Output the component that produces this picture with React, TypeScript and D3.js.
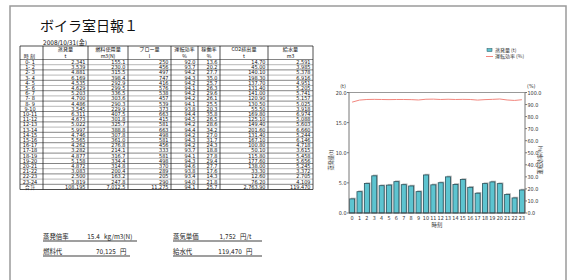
import React from 'react';
import * as d3 from 'd3';

// hourly table values
const hours = ['0- 1', '1- 2', '2- 3', '3- 4', '4- 5', '5- 6', '6- 7', '7- 8', '8- 9', '9-10', '10-11', '11-12',
  '12-13', '13-14', '14-15', '15-16', '16-17', '17-18', '18-19', '19-20', '20-21', '21-22', '22-23', '23-24'];
const steam = [2.341, 3.539, 4.881, 6.169, 4.535, 4.629, 5.203, 4.700, 4.486, 3.545, 6.311, 4.673,
  5.022, 5.997, 4.746, 5.565, 4.262, 3.282, 4.877, 5.158, 4.872, 3.083, 2.500, 3.819];
const fuel = [155.1, 230.0, 315.5, 398.4, 292.9, 299.5, 336.5, 303.6, 290.3, 229.9, 407.5, 301.8,
  325.7, 388.8, 307.8, 361.0, 276.8, 214.1, 316.7, 334.4, 314.8, 200.4, 163.2, 247.8];
const blow = [250, 456, 497, 747, 416, 576, 538, 457, 539, 373, 663, 415,
  581, 663, 498, 581, 456, 333, 581, 498, 370, 289, 205, 290];
const efficiency = [92.0, 93.7, 94.2, 94.3, 94.2, 94.1, 94.2, 94.2, 94.1, 93.8, 94.4, 94.5,
  94.2, 94.4, 94.2, 94.3, 94.2, 93.7, 94.1, 94.3, 94.6, 93.8, 93.4, 94.0];
const utilization = [13.6, 20.2, 27.7, 35.0, 25.7, 26.3, 29.6, 26.1, 25.5, 20.3, 35.8, 26.5,
  28.6, 34.2, 27.0, 31.7, 24.3, 18.8, 27.8, 29.4, 27.7, 17.6, 14.3, 21.8];
const co2 = [14.70, 45.00, 140.10, 198.30, 137.70, 131.40, 141.00, 120.90, 130.50, 55.50, 169.80, 125.10,
  149.40, 201.60, 131.40, 167.10, 100.80, 50.10, 115.80, 177.60, 138.00, 33.30, 12.60, 76.20];
const water = [2.591, 3.985, 5.378, 6.916, 4.951, 5.205, 5.741, 5.157, 5.025, 3.918, 6.974, 5.088,
  5.603, 6.660, 5.244, 6.146, 4.718, 3.615, 5.458, 5.656, 5.245, 3.372, 2.705, 4.109];
const totals = ['合 計', '108.195', '7,012.5', '11,275', '94.1', '25.7', '2,763.90', '119.470'];

const headers = [['', '時 刻'], ['蒸発量', 't'], ['燃料使用量', 'm3(N)'], ['ブロー量', 'l'],
  ['運転効率', '%'], ['稼働率', '%'], ['CO2排出量', 't'], ['給水量', 'm3']];

const summary = [
  { label: '蒸発倍率', value: '15.4', unit: 'kg/m3(N)' },
  { label: '蒸気単価', value: '1,752', unit: '円/t' },
  { label: '燃料代', value: '70,125', unit: '円' },
  { label: '給水代', value: '119,470', unit: '円' },
];

const chartLabels = d3.range(24).map(String);

const JP = "'Noto Sans CJK JP', sans-serif";
const NUM = "'Liberation Sans Narrow', 'DejaVu Sans Condensed', 'Noto Sans CJK JP', sans-serif";

const colEdges = [20, 43, 88, 128, 171, 198, 220, 268, 313];
const tableTop = 46;
const headH = 13.5;
const rowH = 5.2;

const f3 = d3.format(',.3f');
const f1 = d3.format(',.1f');
const f2 = d3.format(',.2f');
const f0 = d3.format(',d');

const Table = () => {
  const rows = hours.map((h, i) => [h, f3(steam[i]), f1(fuel[i]), f0(blow[i]), f1(efficiency[i]),
    f1(utilization[i]), f2(co2[i]), f3(water[i])]);
  rows.push(totals);
  const bottom = tableTop + headH + rows.length * rowH;
  return (
    <g>
      {headers.map((hd, c) => {
        const cx = (colEdges[c] + colEdges[c + 1]) / 2;
        return (
          <g key={c} fontFamily={JP} fontSize={5.1} fill="#111" textAnchor="middle">
            <text x={c === 0 ? cx - 2 : cx} y={tableTop + 5.2}>{hd[0]}</text>
            <text x={c === 0 ? cx - 2 : cx} y={tableTop + 11.8}>{hd[1]}</text>
          </g>
        );
      })}
      {rows.map((r, i) => {
        const top = tableTop + headH + i * rowH;
        return (
          <g key={i}>
            <line x1={colEdges[0]} x2={colEdges[8]} y1={top} y2={top} stroke={i % 2 ? '#888' : '#333'} strokeWidth={0.6} />
            {r.map((v, c) => (
              <text key={c} x={c === 0 ? 30 : colEdges[c + 1] - 2.5} y={top + 4.5}
                textAnchor={c === 0 ? 'middle' : 'end'} fontFamily={c === 0 && i === 24 ? JP : NUM}
                fontSize={c === 0 && i === 24 ? 4.6 : 5.5} fill="#111">{v}</text>
            ))}
          </g>
        );
      })}
      {colEdges.map((x, c) => (
        <line key={c} x1={x} x2={x} y1={tableTop} y2={bottom} stroke="#222" strokeWidth={0.8} />
      ))}
      <line x1={colEdges[0]} x2={colEdges[8]} y1={tableTop} y2={tableTop} stroke="#222" strokeWidth={0.8} />
      <line x1={colEdges[0]} x2={colEdges[8]} y1={bottom} y2={bottom} stroke="#222" strokeWidth={0.8} />
    </g>
  );
};

const Summary = () => {
  const pos = [
    { x: 43, y: 239, vx: 100, w: 94 },
    { x: 173, y: 239, vx: 236, w: 89 },
    { x: 43, y: 254, vx: 116, w: 87 },
    { x: 173, y: 254, vx: 242, w: 89 },
  ];
  return (
    <g fontFamily={JP} fontSize={6.4} fill="#222">
      {summary.map((s, i) => (
        <g key={i}>
          <rect x={pos[i].x} y={pos[i].y + 1.2} width={pos[i].w} height={1.6} fill="#888" />
          <text x={pos[i].x} y={pos[i].y}>{s.label}</text>
          <text x={pos[i].vx} y={pos[i].y} textAnchor="end" fontFamily={NUM}>{s.value}</text>
          <text x={pos[i].vx + 4} y={pos[i].y}>{s.unit}</text>
        </g>
      ))}
    </g>
  );
};

const Chart = () => {
  const left = 349, right = 525, top = 92.5, bottom = 213;
  const x = d3.scaleBand<string>().domain(chartLabels).range([left, right]).paddingInner(0.32).paddingOuter(0.08);
  const yL = d3.scaleLinear().domain([0, 20]).range([bottom, top]);
  const yR = d3.scaleLinear().domain([0, 100]).range([bottom, top]);
  const bw = x.bandwidth();
  const line = d3.line<number>()
    .x((_, i) => (x(chartLabels[i]) as number) + bw / 2)
    .y(d => yR(d));
  return (
    <g fontFamily={NUM} fontSize={5.4} fill="#333">
      <line x1={left} x2={right} y1={top} y2={top} stroke="#999" strokeWidth={1} />
      {steam.map((v, i) => (
        <g key={i}>
          <rect x={(x(chartLabels[i]) as number) + 1.2} y={yL(v) - 1.2} width={bw} height={bottom - yL(v) + 1.2} fill="#b5b5b5" />
          <rect x={x(chartLabels[i]) as number} y={yL(v)} width={bw} height={bottom - yL(v)}
            fill="#5dc4d0" stroke="#28525c" strokeWidth={0.8} />
        </g>
      ))}
      <path d={line(efficiency) as string} fill="none" stroke="#f2867e" strokeWidth={1} />
      <line x1={left} x2={left} y1={top} y2={bottom} stroke="#777" strokeWidth={1} />
      <line x1={right} x2={right} y1={top} y2={bottom} stroke="#777" strokeWidth={1} />
      <line x1={left} x2={right} y1={bottom} y2={bottom} stroke="#444" strokeWidth={1} />
      {yL.ticks(4).map(t => (
        <g key={t}>
          <line x1={left - 2} x2={left} y1={yL(t)} y2={yL(t)} stroke="#777" />
          <text x={left - 2.5} y={yL(t) + 2} textAnchor="end">{d3.format('.1f')(t)}</text>
        </g>
      ))}
      {yR.ticks(10).map(t => (
        <g key={t}>
          <line x1={right} x2={right + 2} y1={yR(t)} y2={yR(t)} stroke="#777" />
          <text x={right + 2.5} y={yR(t) + 2}>{d3.format('.1f')(t)}</text>
        </g>
      ))}
      {chartLabels.map(l => (
        <text key={l} x={(x(l) as number) + bw / 2} y={bottom + 6.5} textAnchor="middle">{l}</text>
      ))}
      <text x={left - 6} y={top - 5} textAnchor="middle">(t)</text>
      <text x={right + 2} y={top - 5}>(%)</text>
      <text x={(left + right) / 2} y={bottom + 14} textAnchor="middle" fontFamily={JP}>時刻</text>
      <text transform={`translate(333,160) rotate(-90)`} textAnchor="middle" fontFamily={JP} fontSize={5.2}>蒸発量(t)</text>
      <text transform={`translate(542,160) rotate(-90)`} textAnchor="middle" fontFamily={JP} fontSize={5.2}>運転効率(%)</text>
      <g fontFamily={JP} fontSize={5}>
        <rect x={487} y={48.5} width={5} height={3} fill="#5dc4d0" stroke="#28525c" strokeWidth={0.5} />
        <text x={495} y={51.8}>蒸発量 (t)</text>
        <line x1={486} x2={493} y1={56.5} y2={56.5} stroke="#f2867e" strokeWidth={1} />
        <text x={495} y={58.3}>運転効率 (%)</text>
      </g>
    </g>
  );
};

const App = () => (
  <div style={{ position: 'absolute', left: 0, top: 0 }}>
    <svg width={570} height={280} style={{ display: 'block', background: '#fff' }}>
      <rect x={10} y={6} width={556} height={290} fill="none" stroke="#9a9a9a" strokeWidth={1.5} />
      <text x={40} y={31} fontFamily={JP} fontSize={14} fill="#111">ボイラ室日報１</text>
      <text x={43} y={44.5} fontFamily={NUM} fontSize={6.4} fill="#111">2008/10/31(金)</text>
      <Table />
      <Summary />
      <Chart />
    </svg>
  </div>
);

export default App;
